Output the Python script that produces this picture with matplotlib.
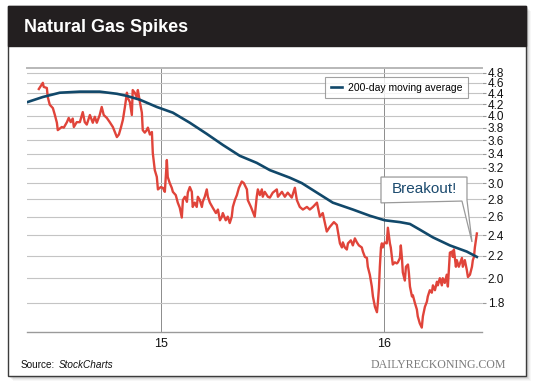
import matplotlib
matplotlib.use("Agg")
import matplotlib.pyplot as plt
from matplotlib.patches import Rectangle, Polygon
from matplotlib.ticker import FixedLocator, FixedFormatter, NullLocator

plt.rcParams["font.family"] = ["Liberation Sans", "DejaVu Sans"]

# natural gas front-month price (decimal year, $/MMBtu)
price_t = [
    2014.453, 2014.471, 2014.475, 2014.489, 2014.493, 2014.502, 2014.516, 2014.525,
    2014.534, 2014.538, 2014.556, 2014.565, 2014.579, 2014.587, 2014.596, 2014.605,
    2014.610, 2014.623, 2014.637, 2014.650, 2014.659, 2014.668, 2014.682, 2014.695,
    2014.704, 2014.713, 2014.726, 2014.735, 2014.744, 2014.758, 2014.771, 2014.785,
    2014.794, 2014.803, 2014.812, 2014.821, 2014.830, 2014.839, 2014.848, 2014.852,
    2014.861, 2014.870, 2014.874, 2014.883, 2014.892, 2014.897, 2014.906, 2014.915,
    2014.919, 2014.928, 2014.937, 2014.942, 2014.951, 2014.960, 2014.964, 2014.973,
    2014.982, 2014.987, 2015.000, 2015.009, 2015.018, 2015.027, 2015.031, 2015.040,
    2015.049, 2015.054, 2015.067, 2015.076, 2015.085, 2015.094, 2015.099, 2015.108,
    2015.117, 2015.121, 2015.130, 2015.139, 2015.143, 2015.152, 2015.161, 2015.166,
    2015.175, 2015.184, 2015.188, 2015.197, 2015.206, 2015.211, 2015.220, 2015.233,
    2015.247, 2015.256, 2015.265, 2015.274, 2015.278, 2015.291, 2015.300, 2015.309,
    2015.318, 2015.323, 2015.332, 2015.341, 2015.350, 2015.363, 2015.372, 2015.386,
    2015.390, 2015.404, 2015.413, 2015.421, 2015.430, 2015.435, 2015.444, 2015.453,
    2015.457, 2015.466, 2015.480, 2015.489,
    2015.502, 2015.520, 2015.525, 2015.543, 2015.556, 2015.569, 2015.587, 2015.601,
    2015.610, 2015.623, 2015.637, 2015.655, 2015.668, 2015.682, 2015.700, 2015.713,
    2015.726, 2015.744, 2015.758, 2015.776, 2015.789, 2015.803,
    2015.812, 2015.816, 2015.825, 2015.834, 2015.839, 2015.852, 2015.861, 2015.870,
    2015.879, 2015.888, 2015.901, 2015.906, 2015.915, 2015.924, 2015.928, 2015.937,
    2015.946, 2015.951, 2015.960, 2015.969, 2015.973, 2015.978, 2015.982, 2015.987,
    2015.991, 2015.995, 2016.004, 2016.013, 2016.018, 2016.027, 2016.031, 2016.040,
    2016.049, 2016.058, 2016.063, 2016.072, 2016.076, 2016.081, 2016.085, 2016.094,
    2016.099, 2016.108, 2016.112,
    2016.117, 2016.126, 2016.130, 2016.139, 2016.148, 2016.152, 2016.161, 2016.170,
    2016.175, 2016.184, 2016.193, 2016.197, 2016.206, 2016.215, 2016.220, 2016.229,
    2016.238, 2016.242, 2016.251, 2016.260, 2016.264, 2016.273, 2016.282, 2016.287,
    2016.296, 2016.305, 2016.309, 2016.314, 2016.323, 2016.327, 2016.336, 2016.350,
    2016.354, 2016.363, 2016.372, 2016.377, 2016.386, 2016.395, 2016.399, 2016.404,
    2016.408, 2016.413, 2016.417,
]
price_v = [
    4.48, 4.60, 4.52, 4.50, 4.33, 4.19, 4.13, 4.01,
    3.88, 3.76, 3.81, 3.80, 3.89, 3.96, 3.89, 3.95,
    3.81, 3.89, 3.89, 4.06, 3.89, 3.85, 4.01, 3.88,
    3.98, 3.88, 4.01, 4.15, 4.01, 3.96, 3.89, 3.81,
    3.73, 3.65, 3.69, 3.80, 3.93, 4.15, 4.41, 4.31,
    4.24, 4.01, 4.46, 4.41, 4.33, 4.46, 4.24, 4.05,
    3.76, 3.72, 3.76, 3.80, 3.69, 3.73, 3.41, 3.17,
    3.08, 2.92, 2.95, 2.94, 2.89, 3.31, 3.08, 3.00,
    2.94, 2.89, 2.85, 2.76, 2.70, 2.59, 2.79, 2.83,
    2.77, 2.88, 2.95, 2.89, 2.71, 2.76, 2.71, 2.83,
    2.79, 2.71, 2.77, 2.83, 2.92, 2.83, 2.76, 2.70,
    2.64, 2.68, 2.56, 2.60, 2.64, 2.56, 2.60, 2.53,
    2.60, 2.71, 2.79, 2.85, 2.94, 3.02, 3.00, 2.92,
    2.79, 2.71, 2.65, 2.60, 2.83, 2.92, 2.85, 2.92,
    2.83, 2.89, 2.83, 2.82,
    2.88, 2.92, 2.83, 2.89, 2.83, 2.88, 2.82, 2.94,
    2.79, 2.71, 2.68, 2.71, 2.68, 2.71, 2.76, 2.60,
    2.64, 2.44, 2.49, 2.54, 2.51, 2.32,
    2.28, 2.33, 2.28, 2.26, 2.32, 2.35, 2.30, 2.37,
    2.33, 2.30, 2.28, 2.24, 2.19, 2.18, 2.10, 2.03,
    1.93, 1.85, 1.77, 1.73, 1.80, 1.92, 2.10, 2.28,
    2.32, 2.28, 2.33, 2.32, 2.48, 2.32, 2.28, 2.12,
    2.14, 2.13, 2.14, 2.18, 2.30, 2.18, 2.05, 1.98,
    2.10, 2.12, 2.05,
    1.93, 1.85, 1.86, 1.80, 1.75, 1.70, 1.65, 1.62,
    1.70, 1.77, 1.81, 1.85, 1.90, 1.88, 1.94, 1.90,
    1.97, 1.94, 2.00, 1.94, 2.00, 1.96, 2.03, 1.93,
    2.23, 2.24, 2.19, 2.26, 2.10, 2.16, 2.10, 2.18,
    2.10, 2.16, 2.07, 2.01, 2.03, 2.10, 2.16, 2.19,
    2.28, 2.36, 2.42,
]

# 200-day moving average
ma_t = [
    2014.404, 2014.471, 2014.547, 2014.637, 2014.726, 2014.803, 2014.848, 2014.906,
    2014.982, 2015.054, 2015.130, 2015.206, 2015.278, 2015.354, 2015.430, 2015.489,
    2015.578, 2015.632, 2015.700, 2015.771, 2015.861, 2015.937, 2016.004, 2016.072,
    2016.117, 2016.161, 2016.220, 2016.296, 2016.372, 2016.417,
]
ma_v = [
    4.24, 4.33, 4.41, 4.43, 4.43, 4.39, 4.35, 4.28,
    4.15, 4.05, 3.88, 3.70, 3.53, 3.37, 3.27, 3.17,
    3.07, 3.00, 2.88, 2.76, 2.68, 2.61, 2.56, 2.54,
    2.52, 2.46, 2.38, 2.30, 2.24, 2.19,
]

y_ticks = [1.8, 2.0, 2.2, 2.4, 2.6, 2.8, 3.0, 3.2, 3.4, 3.6, 3.8, 4.0, 4.2, 4.4, 4.6, 4.8]
x_ticks = [2015, 2016]
x_labels = ["15", "16"]

W, H = 540, 389
fig = plt.figure(figsize=(W / 100, H / 100), dpi=100)
fig.patch.set_facecolor("white")


def fx(px):
    return px / W


def fy(py):
    return 1 - py / H


# panel with a soft drop shadow
for i, a in enumerate([0.10, 0.08, 0.06, 0.04, 0.03]):
    off = i + 1
    fig.patches.append(Rectangle((fx(8 + off), fy(376 + off)), 518 / W, 370 / H,
                                 transform=fig.transFigure, facecolor="black",
                                 edgecolor="none", alpha=a, zorder=-10 + i))
fig.patches.append(Rectangle((fx(8), fy(376)), 518 / W, 370 / H, transform=fig.transFigure,
                             facecolor="white", edgecolor="#3c3c3c", lw=1.0, zorder=-2))
fig.patches.append(Rectangle((fx(8), fy(46)), 518 / W, 40 / H, transform=fig.transFigure,
                             facecolor="#231f20", edgecolor="#231f20", lw=1.0, zorder=-1))
fig.text(fx(24), fy(27), "Natural Gas Spikes", color="white", fontsize=13,
         fontweight="bold", ha="left", va="center")

ax = fig.add_axes([fx(27), fy(332), 455 / W, 264 / H])
ax.set_facecolor("none")
ax.set_yscale("log")
ax.set_xlim(2014.40, 2016.44)
ax.set_ylim(1.59, 4.90)

ax.plot(price_t, price_v, color="#e0443a", lw=1.7, solid_joinstyle="round", zorder=3)
ax.plot(ma_t, ma_v, color="#11486a", lw=1.9, zorder=4, label="200-day moving average")

ax.yaxis.set_major_locator(FixedLocator(y_ticks))
ax.yaxis.set_major_formatter(FixedFormatter([f"{v:.1f}" for v in y_ticks]))
ax.yaxis.set_minor_locator(NullLocator())
ax.yaxis.tick_right()
ax.tick_params(axis="y", length=3, width=0.8, color="#9a9a9a", pad=1,
               labelsize=8.5, labelcolor="#111111")
ax.set_xticks(x_ticks)
ax.set_xticklabels(x_labels)
ax.xaxis.set_minor_locator(NullLocator())
ax.tick_params(axis="x", length=0, pad=4, labelsize=9, labelcolor="#111111")

ax.grid(axis="y", color="#c4c4c4", lw=0.8)
ax.grid(axis="x", color="#8c8c8c", lw=0.7)
ax.set_axisbelow(True)

for side in ("left", "right"):
    ax.spines[side].set_visible(False)
ax.spines["top"].set_color("#b8b8b8")
ax.spines["top"].set_linewidth(1.4)
ax.spines["bottom"].set_color("#9a9a9a")
ax.spines["bottom"].set_linewidth(1.0)

leg = ax.legend(loc="upper right", bbox_to_anchor=(0.969, 0.966), borderaxespad=0,
                fontsize=7.5, frameon=True, fancybox=False, handlelength=1.1,
                handletextpad=0.5, borderpad=0.55)
leg.get_frame().set_edgecolor("#8a8a8a")
leg.get_frame().set_linewidth(0.8)

# "Breakout!" callout
callout = Polygon([(0.778, 0.587), (0.967, 0.587), (0.967, 0.500), (0.978, 0.341),
                   (0.956, 0.496), (0.778, 0.489)], closed=True, transform=ax.transAxes,
                  facecolor="white", edgecolor="#9a9a9a", lw=0.9, zorder=6)
ax.add_patch(callout)
ax.text(0.873, 0.540, "Breakout!", transform=ax.transAxes, ha="center", va="center",
        fontsize=11, color="#1b4a6e", zorder=7)

src = fig.text(fx(21), fy(365), "Source:", fontsize=7.2, ha="left", va="center",
               color="#111111")
renderer = fig.canvas.get_renderer()
src_end = src.get_window_extent(renderer).x1
fig.text((src_end + 3) / W, fy(365), "StockCharts", fontsize=7.2, style="italic",
         ha="left", va="center", color="#111111")
fig.text(fx(506), fy(365), "DAILYRECKONING.COM", fontsize=8.6, ha="right", va="center",
         color="#7c7c7c", family="Liberation Serif")

fig.savefig("out.png", dpi=100)
